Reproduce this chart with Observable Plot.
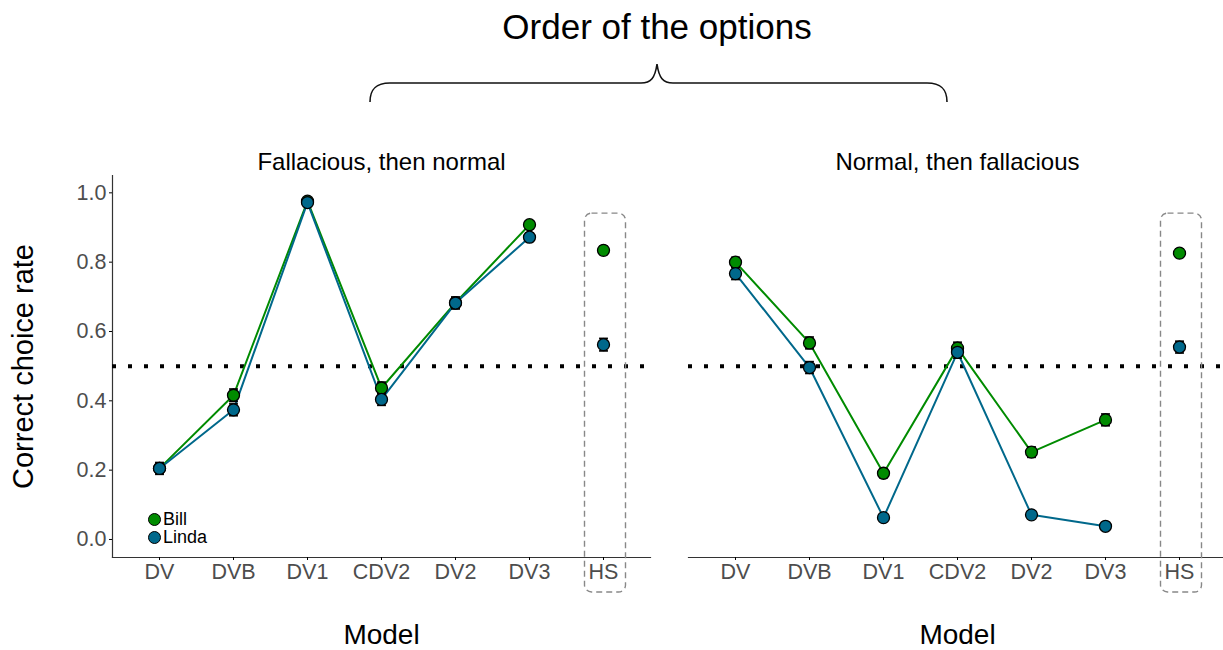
<!DOCTYPE html>
<html>
<head>
<meta charset="utf-8">
<script src="https://cdn.jsdelivr.net/npm/d3@7"></script>
<script src="https://cdn.jsdelivr.net/npm/@observablehq/plot@0.6"></script>
<style>
  html, body { margin: 0; padding: 0; background: #fff; }
  body { font-family: "Liberation Sans", Arial, sans-serif; }
  #wrap { position: relative; width: 1223px; height: 650px; overflow: hidden; }
  #title { position: absolute; top: 4px; left: 657px; transform: translateX(-50%); font-size: 35px; line-height: 46px; white-space: nowrap; color: #000; }
  #brace { position: absolute; top: 0; left: 0; }
  #plot { position: absolute; top: 110px; left: 0; }
  #legend { position: absolute; left: 148px; top: 510px; font-size: 18px; line-height: 18px; color: #000; }
  #legend .item { display: flex; align-items: center; height: 18px; }
  #legend .sw { width: 11px; height: 11px; border-radius: 50%; border: 1px solid #000; margin-right: 2px; }
  [aria-label="y-axis tick label"], [aria-label="x-axis tick label"] { fill: #4d4d4d; }
  [aria-label="y-axis label"] { font-size: 29px; fill: #000; }
</style>
</head>
<body>
<div id="wrap">
  <div id="title">Order of the options</div>
  <svg id="brace" width="1223" height="110"></svg>
  <div id="plot"></div>
  <div id="legend"></div>
</div>
<script>
// ---- data ----
const models = ["DV", "DVB", "DV1", "CDV2", "DV2", "DV3", "HS"];
const panels = ["Fallacious, then normal", "Normal, then fallacious"];
const names = ["Bill", "Linda"];
const colors = ["#008B00", "#00688B"];

const billFallacious  = [0.205, 0.416, 0.976, 0.437, 0.683, 0.908, 0.834];
const lindaFallacious = [0.205, 0.374, 0.972, 0.404, 0.682, 0.872, 0.562];
const billNormal      = [0.800, 0.567, 0.191, 0.552, 0.252, 0.345, 0.826];
const lindaNormal     = [0.767, 0.496, 0.063, 0.540, 0.071, 0.038, 0.555];

const billFallaciousSE  = [0.015, 0.018, 0.005, 0.017, 0.016, 0.010, 0.012];
const lindaFallaciousSE = [0.017, 0.017, 0.005, 0.017, 0.017, 0.012, 0.018];
const billNormalSE      = [0.014, 0.017, 0.013, 0.017, 0.015, 0.017, 0.012];
const lindaNormalSE     = [0.017, 0.017, 0.004, 0.017, 0.004, 0.004, 0.017];

const chance = 0.5;
const yTicks = [0, 0.2, 0.4, 0.6, 0.8, 1.0];
const highlighted = "HS";

// ---- build table ----
const series = [
  [panels[0], "Bill", billFallacious, billFallaciousSE],
  [panels[0], "Linda", lindaFallacious, lindaFallaciousSE],
  [panels[1], "Bill", billNormal, billNormalSE],
  [panels[1], "Linda", lindaNormal, lindaNormalSE]
];
const rows = [];
for (const [panel, name, vals, ses] of series) {
  models.forEach((m, i) => rows.push({panel, name, model: m, value: vals[i], se: ses[i]}));
}
const lineRows = rows.filter(d => d.model !== highlighted);
const boxRows = panels.map(p => ({panel: p, model: highlighted, top: 0.94}));

const cap = {draw(ctx, size) { const w = Math.sqrt(size) / 2; ctx.moveTo(-w, 0); ctx.lineTo(w, 0); }};

// dashed rounded box around the highlighted category, built from scaled positions
function boxRender(index, scales, values, dimensions) {
  const g = d3.create("svg:g");
  const bottom = dimensions.height - dimensions.marginBottom + 35;
  for (const i of index) {
    const cx = values.x[i] + 2, top = values.y[i];
    g.append("rect")
      .attr("x", cx - 20.5).attr("y", top)
      .attr("width", 41).attr("height", bottom - top)
      .attr("rx", 7).attr("ry", 7)
      .attr("fill", "none").attr("stroke", "#888").attr("stroke-width", 1.4)
      .attr("stroke-dasharray", "6,4");
  }
  return g.node();
}

const plot = Plot.plot({
  width: 1223,
  height: 540,
  marginTop: 65,
  marginBottom: 93,
  marginLeft: 112,
  marginRight: -3,
  style: {fontFamily: "'Liberation Sans', Arial, sans-serif", fontSize: "21.5px", background: "white", overflow: "visible"},
  fx: {domain: panels, paddingInner: 0.066, paddingOuter: 0, label: null},
  x: {type: "point", domain: models, padding: 0.6, label: null},
  y: {domain: [-0.052, 1.05], label: null},
  color: {domain: names, range: colors},
  marks: [
    Plot.frame({anchor: "left", facetAnchor: "left", stroke: "#333", strokeWidth: 1.2}),
    Plot.frame({anchor: "bottom", stroke: "#333", strokeWidth: 1.2}),
    Plot.ruleY([chance], {stroke: "black", strokeWidth: 4, strokeDasharray: "4,12"}),
    Plot.dot(boxRows, {fx: "panel", x: "model", y: "top", render: boxRender}),
    Plot.line(lineRows, {fx: "panel", x: "model", y: "value", z: "name", stroke: "name", strokeWidth: 2}),
    Plot.ruleX(rows, {fx: "panel", x: "model", y1: d => d.value - d.se, y2: d => d.value + d.se, stroke: "black", strokeWidth: 1.7}),
    Plot.dot(rows, {fx: "panel", x: "model", y: d => d.value - d.se, symbol: cap, r: 5, stroke: "black", strokeWidth: 1.7, fill: "none"}),
    Plot.dot(rows, {fx: "panel", x: "model", y: d => d.value + d.se, symbol: cap, r: 5, stroke: "black", strokeWidth: 1.7, fill: "none"}),
    Plot.dot(rows, {fx: "panel", x: "model", y: "value", fill: "name", stroke: "black", strokeWidth: 1.3, r: 6}),
    Plot.axisY({ticks: yTicks, tickFormat: d3.format(".1f"), tickSize: 3, tickPadding: 3, label: "Correct choice rate", labelAnchor: "center", labelOffset: 100, labelArrow: "none"}),
    Plot.axisX({tickSize: 3, tickPadding: 3, label: null}),
    Plot.axisFx({anchor: "top", tickSize: 0, tickPadding: 6, label: null, fontSize: 24}),
    Plot.text(panels, {fx: d => d, text: () => "Model", frameAnchor: "bottom", dy: 78, fontSize: 28, lineAnchor: "middle"})
  ]
});
document.getElementById("plot").appendChild(plot);

// brace
d3.select("#brace").append("path")
  .attr("d", "M370,102 C370,90 375,83 390,83 L641,83 C651,83 655,78 657,64 C659,78 663,83 673,83 L927,83 C942,83 947,90 947,102")
  .attr("fill", "none").attr("stroke", "#111").attr("stroke-width", 1.6);

// legend
const lg = d3.select("#legend");
names.forEach((n, i) => {
  const it = lg.append("div").attr("class", "item");
  it.append("div").attr("class", "sw").style("background", colors[i]);
  it.append("span").text(n);
});
</script>
</body>
</html>
